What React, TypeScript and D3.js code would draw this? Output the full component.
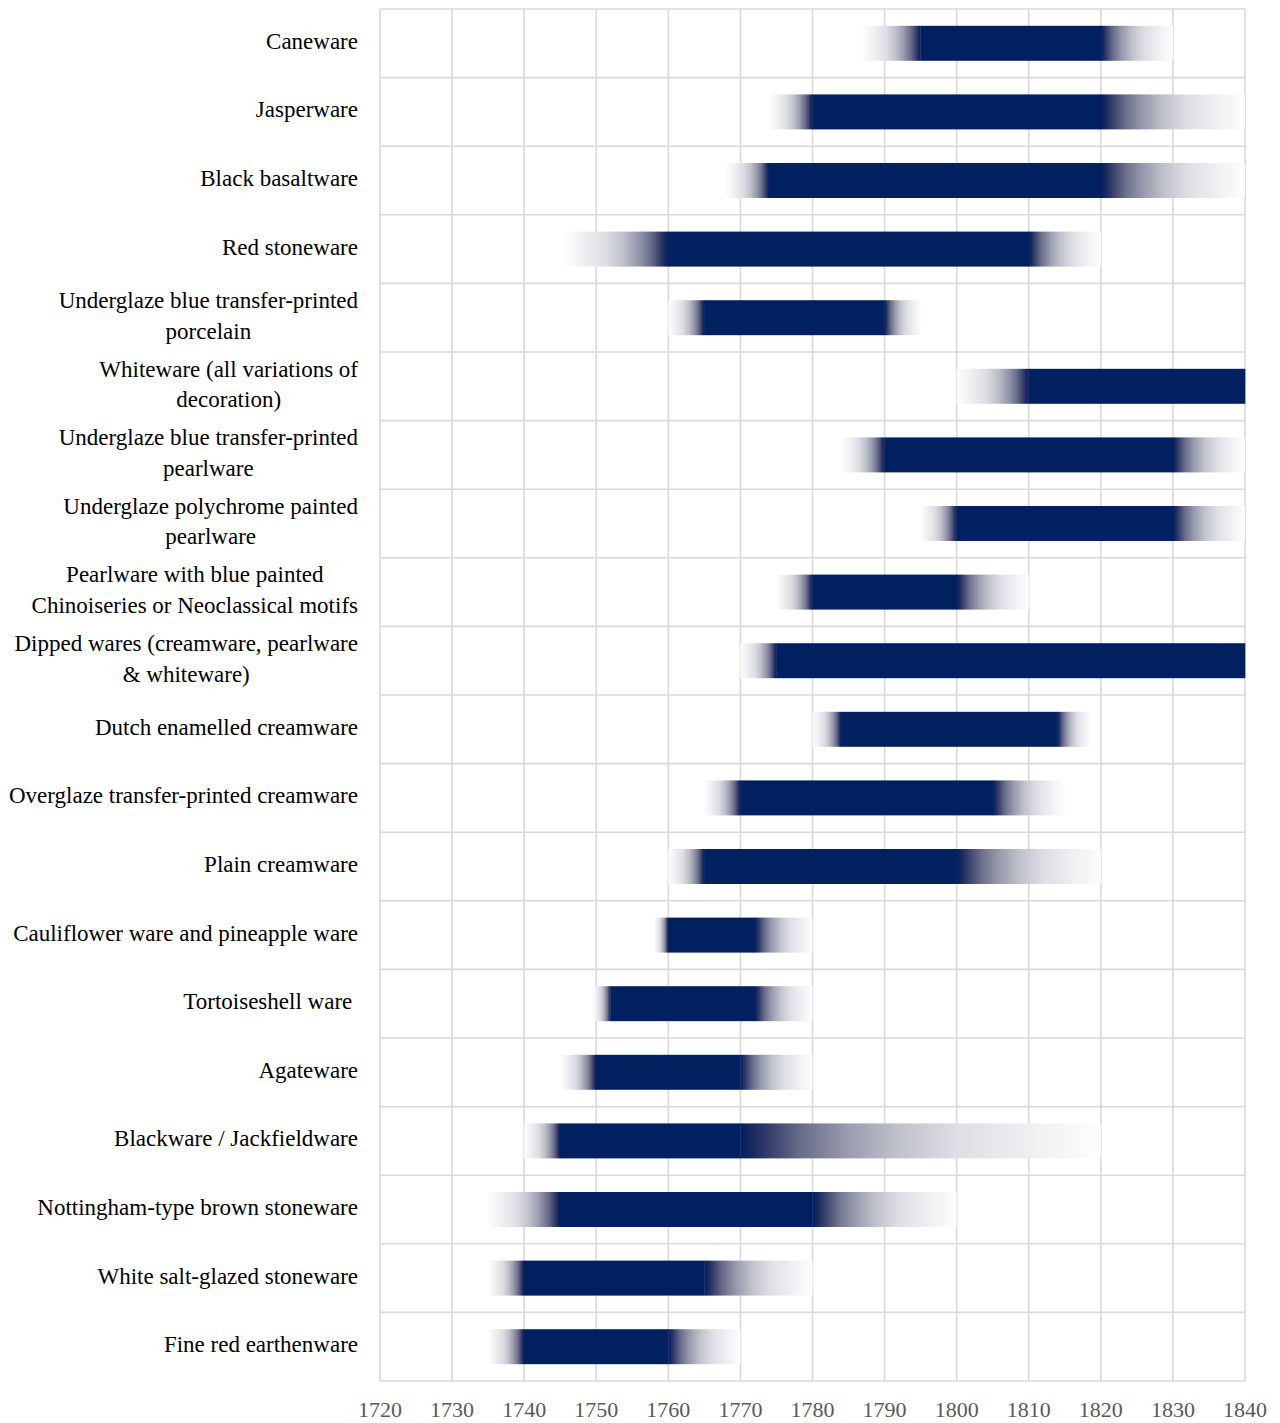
import React, { useMemo } from "react";
import * as d3 from "d3";

const categories = [
  "Caneware",
  "Jasperware",
  "Black basaltware",
  "Red stoneware",
  "Underglaze blue transfer-printed\nporcelain",
  "Whiteware (all variations of\ndecoration)",
  "Underglaze blue transfer-printed\npearlware",
  "Underglaze polychrome painted\npearlware",
  "Pearlware with blue painted\nChinoiseries or Neoclassical motifs",
  "Dipped wares (creamware, pearlware\n& whiteware)",
  "Dutch enamelled creamware",
  "Overglaze transfer-printed creamware",
  "Plain creamware",
  "Cauliflower ware and pineapple ware",
  "Tortoiseshell ware ",
  "Agateware",
  "Blackware / Jackfieldware",
  "Nottingham-type brown stoneware",
  "White salt-glazed stoneware",
  "Fine red earthenware",
];

const fadeStart = [1787, 1774, 1768, 1745.5, 1760, 1800, 1784, 1795, 1775, 1770, 1780, 1765, 1760, 1758, 1749.5, 1745, 1740, 1735, 1735, 1735];
const solidStart = [1795, 1780, 1774, 1760, 1765, 1810, 1790, 1800, 1780, 1775, 1784, 1770, 1765, 1760, 1752, 1750, 1745, 1745, 1740, 1740];
const solidEnd = [1820, 1820, 1820, 1810, 1790, 1840, 1830, 1830, 1800, 1840, 1814, 1805, 1800, 1772, 1772, 1770, 1770, 1780, 1765, 1760];
const fadeEnd = [1830, 1840, 1840, 1820, 1795, 1840, 1840, 1840, 1810, 1840, 1818.5, 1815, 1820, 1780, 1780, 1780, 1820, 1800, 1780, 1770];

const xTicks = [1720, 1730, 1740, 1750, 1760, 1770, 1780, 1790, 1800, 1810, 1820, 1830, 1840];

const NAVY = "#002060";
// gradient stops going from navy (0) to white (1)
const fadeStops: [number, string][] = [
  [0, "#002060"],
  [0.04, "#1f2a5e"],
  [0.17, "#6a6e8a"],
  [0.3, "#9a9cb0"],
  [0.44, "#c0c2cc"],
  [0.6, "#dddee4"],
  [0.85, "#f3f3f5"],
  [1, "#fdfdfd"],
];

const FONT = "'Liberation Serif', 'Times New Roman', serif";
const FONT_SIZE = 23;
const TICK_SIZE = 22;

const W = 1280;
const H = 1423;
const left = 380;
const right = 1245;
const top = 9;
const bottom = 1381;
const labelRight = 358;

function measure(text: string): number {
  if (typeof document === "undefined") return text.length * 10;
  const c = document.createElement("canvas");
  const ctx = c.getContext("2d");
  if (!ctx) return text.length * 10;
  ctx.font = `${FONT_SIZE}px ${FONT}`;
  return ctx.measureText(text).width;
}

export default function App() {
  const x = d3.scaleLinear().domain([1720, 1840]).range([left, right]);
  const yOuter = d3.scaleBand<number>().domain(d3.range(categories.length)).range([top, bottom]).padding(0);
  const y = d3.scaleBand<number>().domain(d3.range(categories.length)).range([top, bottom]).paddingInner(0.49).paddingOuter(0.245);

  const rowLines = d3.range(categories.length + 1).map((i) => top + i * yOuter.step());

  const labels = useMemo(
    () =>
      categories.map((c) => {
        const lines = c.split("\n");
        const widths = lines.map(measure);
        return { lines, maxW: Math.max(...widths) };
      }),
    []
  );

  return (
    <svg
      width={W}
      height={H}
      style={{ position: "absolute", left: 0, top: 0, background: "#fff" }}
      fontFamily={FONT}
    >
      <defs>
        <linearGradient id="fadeOut" x1="0" x2="1" y1="0" y2="0">
          {fadeStops.map(([o, c], i) => (
            <stop key={i} offset={o} stopColor={c} />
          ))}
        </linearGradient>
        <linearGradient id="fadeIn" x1="1" x2="0" y1="0" y2="0">
          {fadeStops.map(([o, c], i) => (
            <stop key={i} offset={o} stopColor={c} />
          ))}
        </linearGradient>
      </defs>
      <rect x={0} y={0} width={W} height={H} fill="#fff" />

      {/* grid */}
      <g stroke="#d9d9d9" strokeWidth={1.6}>
        {xTicks.map((t) => (
          <line key={t} x1={x(t)} x2={x(t)} y1={top} y2={bottom} />
        ))}
        {rowLines.map((yy, i) => (
          <line key={i} x1={left} x2={right} y1={yy} y2={yy} />
        ))}
      </g>

      {/* bars */}
      <g>
        {categories.map((_, i) => {
          const yy = y(i)!;
          const h = y.bandwidth();
          return (
            <g key={i}>
              {solidStart[i] > fadeStart[i] && (
                <rect x={x(fadeStart[i])} y={yy} width={x(solidStart[i]) - x(fadeStart[i])} height={h} fill="url(#fadeIn)" />
              )}
              <rect x={x(solidStart[i]) - 0.3} y={yy} width={x(solidEnd[i]) - x(solidStart[i]) + 0.6} height={h} fill={NAVY} />
              {fadeEnd[i] > solidEnd[i] && (
                <rect x={x(solidEnd[i])} y={yy} width={x(fadeEnd[i]) - x(solidEnd[i])} height={h} fill="url(#fadeOut)" />
              )}
            </g>
          );
        })}
      </g>

      {/* category labels */}
      <g fontSize={FONT_SIZE} fill="#000">
        {labels.map((l, i) => {
          const cy = yOuter(i)! + yOuter.step() / 2 - 2;
          const lh = 30.5;
          const n = l.lines.length;
          return l.lines.map((line, j) => {
            const yy = cy + (j - (n - 1) / 2) * lh;
            if (n === 1) {
              return (
                <text key={`${i}-${j}`} x={labelRight} y={yy} dy="0.33em" textAnchor="end" xmlSpace="preserve" style={{ whiteSpace: "pre" }}>
                  {line}
                </text>
              );
            }
            return (
              <text key={`${i}-${j}`} x={labelRight - l.maxW / 2} y={yy} dy="0.33em" textAnchor="middle">
                {line}
              </text>
            );
          });
        })}
      </g>

      {/* x axis labels */}
      <g fontSize={TICK_SIZE} fill="#595959">
        {xTicks.map((t) => (
          <text key={t} x={x(t)} y={1417} textAnchor="middle">
            {t}
          </text>
        ))}
      </g>
    </svg>
  );
}
